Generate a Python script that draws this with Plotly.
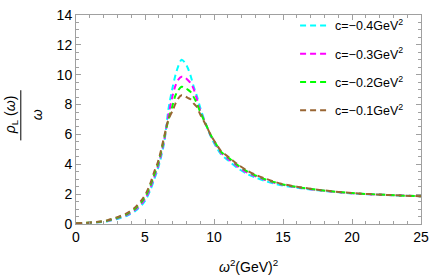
import plotly.graph_objects as go

x = [0, 0.8, 1.6, 2.3, 3, 3.7, 4.3, 4.8, 5.1, 5.4, 5.65, 5.9, 6.1, 6.4, 6.7, 7.0, 7.2, 7.4, 7.65,
     7.9, 8.1, 8.3, 8.5, 8.75, 9.0, 9.4, 9.8, 10.2, 10.5, 11.1, 11.7, 12.4, 13.0, 13.7, 14.3,
     15, 16, 17.5, 20, 22.5, 25]

y_c04 = [0.02, 0.06, 0.11, 0.19, 0.34, 0.55, 0.87, 1.3, 1.7, 2.3, 2.95, 3.6, 4.25, 5.5, 7.7, 9.15,
         9.95, 10.55, 11.0, 10.8, 10.45, 9.95, 9.3, 8.6, 7.8, 6.7, 5.8, 5.1, 4.68, 4.2, 3.75, 3.35,
         3.12, 2.88, 2.72, 2.58, 2.43, 2.26, 2.05, 1.94, 1.86]
y_c03 = [0.03, 0.07, 0.12, 0.21, 0.38, 0.61, 0.95, 1.42, 1.82, 2.45, 3.1, 3.75, 4.4, 5.65, 7.3, 8.6,
         9.25, 9.65, 9.86, 9.8, 9.65, 9.45, 9.1, 8.4, 7.6, 6.7, 5.85, 5.2, 4.78, 4.3, 3.85, 3.45,
         3.2, 2.95, 2.78, 2.62, 2.46, 2.28, 2.06, 1.95, 1.86]
y_c02 = [0.04, 0.08, 0.13, 0.23, 0.42, 0.67, 1.03, 1.53, 1.95, 2.6, 3.25, 3.9, 4.55, 5.8, 7.0, 7.95,
         8.6, 8.95, 9.2, 9.1, 9.0, 8.85, 8.55, 8.1, 7.5, 6.7, 5.9, 5.28, 4.85, 4.4, 3.95, 3.53,
         3.26, 3.0, 2.82, 2.65, 2.48, 2.29, 2.07, 1.95, 1.86]
y_c01 = [0.05, 0.09, 0.15, 0.26, 0.46, 0.73, 1.12, 1.65, 2.1, 2.75, 3.45, 4.05, 4.7, 5.9, 7.0, 7.6,
         8.05, 8.4, 8.62, 8.55, 8.45, 8.35, 8.1, 7.85, 7.35, 6.65, 5.9, 5.3, 4.9, 4.45, 4.0, 3.58,
         3.3, 3.05, 2.85, 2.67, 2.5, 2.3, 2.07, 1.95, 1.86]

y_ticks = [0, 2, 4, 6, 8, 10, 12, 14]
x_ticks = [0, 5, 10, 15, 20, 25]

names = ["c=\u22120.4GeV<sup>2</sup>", "c=\u22120.3GeV<sup>2</sup>",
         "c=\u22120.2GeV<sup>2</sup>", "c=\u22120.1GeV<sup>2</sup>"]
series = [y_c04, y_c03, y_c02, y_c01]
colors = ["#00FFFF", "#FF00FF", "#00FF00", "#996633"]

fig = go.Figure()
for i, (nm, ys, col) in enumerate(zip(names, series, colors)):
    fig.add_trace(go.Scatter(
        x=x, y=ys, mode="lines", name=nm, legendgroup=str(i),
        line=dict(color=col, width=2, dash="6px,4px", shape="spline", smoothing=0.8),
    ))

axis_common = dict(
    showline=True, linecolor="#a0a0a0", linewidth=1, mirror="ticks",
    ticks="inside", tickcolor="#a0a0a0", ticklen=5, tickwidth=1,
    showgrid=False, zeroline=False, tickmode="array",
    tickfont=dict(family="Liberation Sans, Arial, sans-serif", size=14, color="black"),
)

fig.update_xaxes(range=[0, 25], tickvals=x_ticks, ticktext=[str(v) for v in x_ticks],
                 minor=dict(ticks="inside", dtick=1, tick0=0, ticklen=3, tickcolor="#a0a0a0", showgrid=False),
                 **axis_common)
fig.update_yaxes(range=[0, 14.001], tickvals=y_ticks, ticktext=[str(v) for v in y_ticks],
                 minor=dict(ticks="inside", dtick=0.5, tick0=0, ticklen=3, tickcolor="#a0a0a0", showgrid=False),
                 **axis_common)

fig.update_layout(
    width=436, height=278,
    margin=dict(l=76, r=10, t=7, b=54),
    plot_bgcolor="white", paper_bgcolor="white",
    font=dict(family="Liberation Sans, Arial, sans-serif", color="black"),
    legend=dict(x=0.635, y=1.02, xanchor="left", yanchor="top",
                bgcolor="rgba(0,0,0,0)", font=dict(size=12.5),
                tracegroupgap=9, itemwidth=30),
    showlegend=True,
)

# x-axis title
fig.add_annotation(xref="paper", yref="paper", x=0.5, y=0, yshift=-42,
                   text="<i>\u03c9</i><sup>2</sup>(GeV)<sup>2</sup>", showarrow=False,
                   font=dict(size=14), xanchor="center", yanchor="middle")
# y-axis title as fraction
fig.add_annotation(xref="paper", yref="paper", x=0, y=0.52, xshift=-65,
                   text="<i>\u03c1</i><sub>L</sub> (<i>\u03c9</i>)", showarrow=False,
                   font=dict(size=14), textangle=-90, xanchor="center", yanchor="middle")
fig.add_annotation(xref="paper", yref="paper", x=0, y=0.52, xshift=-39,
                   text="<i>\u03c9</i>", showarrow=False,
                   font=dict(size=14), textangle=-90, xanchor="center", yanchor="middle")
fig.add_shape(type="line", xref="paper", yref="paper", x0=-0.16, x1=-0.16, y0=0.40, y1=0.64,
              line=dict(color="black", width=1))

fig.write_html("out.html", config={"displayModeBar": False},
               post_script="document.body.style.margin='0';document.body.style.overflow='hidden';")
